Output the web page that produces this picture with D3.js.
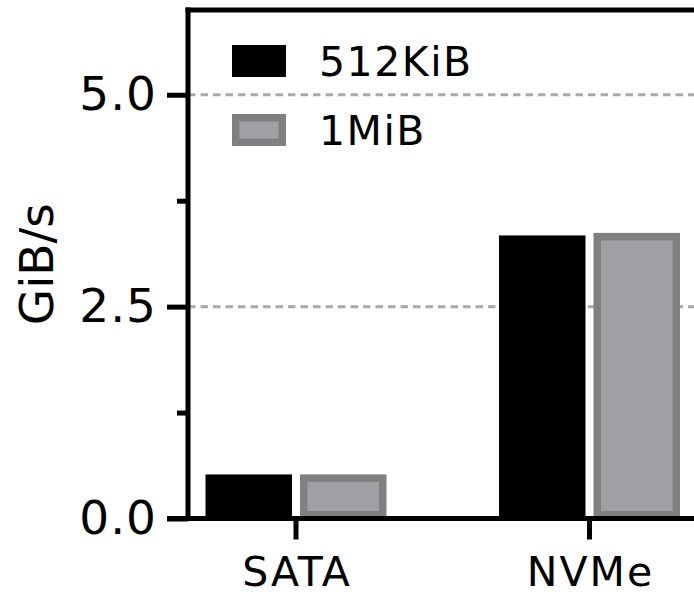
<!DOCTYPE html>
<html>
<head>
<meta charset="utf-8">
<script src="https://cdn.jsdelivr.net/npm/d3@7/dist/d3.min.js"></script>
<style>
  html, body { margin: 0; padding: 0; background: #fff; }
  svg { display: block; }
  text { font-family: "DejaVu Sans", Verdana, sans-serif; fill: #000; }
</style>
</head>
<body>
<svg id="chart" width="694" height="592"></svg>
<script>
// Throughput by device type and request size
const categories = ["SATA", "NVMe"];
const seriesNames = ["512KiB", "1MiB"];
const values512KiB = [0.52, 3.34];
const values1MiB = [0.52, 3.37];
const yTicks = [0, 2.5, 5.0];
const yMinorTicks = [1.25, 3.75];
const yGrid = [2.5, 5.0];
const yLabel = "GiB/s";

const seriesValues = [values512KiB, values1MiB];
const rows = categories.map((c, i) => ({
  category: c,
  values: seriesNames.map((s, j) => ({ series: s, value: seriesValues[j][i] }))
}));

const svg = d3.select("#chart");
const W = 694;

const y = d3.scaleLinear().domain([0, 6]).range([518.5, 10]);
const x0 = d3.scaleBand().domain(categories).range([149.25, 736.25])
  .paddingInner(0.3833).paddingOuter(0.3833 / 2);
const x1 = d3.scaleBand().domain(seriesNames).range([0, x0.bandwidth()])
  .paddingInner(0.0847);

const axisX = 188;

// dashed gridlines
svg.append("g").selectAll("line").data(yGrid).join("line")
  .attr("x1", axisX).attr("x2", W)
  .attr("y1", d => y(d)).attr("y2", d => y(d))
  .attr("stroke", "#a9a9a9").attr("stroke-width", 3)
  .attr("stroke-dasharray", "7.5,5");

// bars
const groups = svg.append("g").selectAll("g").data(rows).join("g")
  .attr("transform", d => `translate(${x0(d.category)},0)`);

const sw = 7.5;
groups.selectAll("rect").data(d => d.values).join("rect")
  .attr("x", d => x1(d.series) + (d.series === "1MiB" ? sw / 2 : 0))
  .attr("y", d => y(d.value) + (d.series === "1MiB" ? sw / 2 : 0))
  .attr("width", d => x1.bandwidth() - (d.series === "1MiB" ? sw : 0))
  .attr("height", d => y(0) - y(d.value) - (d.series === "1MiB" ? sw : 0))
  .attr("fill", d => d.series === "1MiB" ? "#a0a0a4" : "#000")
  .attr("stroke", d => d.series === "1MiB" ? "#808080" : "none")
  .attr("stroke-width", sw);

// y axis
const yAxis = d3.axisLeft(y).tickValues(yTicks).tickSize(21).tickPadding(10)
  .tickFormat(d3.format(".1f"));
const gy = svg.append("g").attr("transform", `translate(${axisX},0)`).call(yAxis);
gy.select(".domain").remove();
gy.selectAll(".tick line").attr("stroke", "#000").attr("stroke-width", 5);
gy.selectAll(".tick text").attr("font-size", 47)
  .style("font-family", "'DejaVu Sans', sans-serif").style("letter-spacing", "1px")
  .attr("fill", "#000");

const yMinor = d3.axisLeft(y).tickValues(yMinorTicks).tickSize(11).tickFormat("");
const gyMinor = svg.append("g").attr("transform", `translate(${axisX},0)`).call(yMinor);
gyMinor.select(".domain").remove();
gyMinor.selectAll(".tick line").attr("stroke", "#000").attr("stroke-width", 5);

svg.append("line")
  .attr("x1", axisX).attr("x2", axisX)
  .attr("y1", y(6) - 2.5).attr("y2", y(0) + 2.5)
  .attr("stroke", "#000").attr("stroke-width", 5);

// top frame line
svg.append("line")
  .attr("x1", axisX - 2.5).attr("x2", W)
  .attr("y1", y(6)).attr("y2", y(6))
  .attr("stroke", "#000").attr("stroke-width", 5);

// x axis
const xAxis = d3.axisBottom(x0).tickSize(21).tickPadding(17);
const gx = svg.append("g").attr("transform", `translate(0,${y(0)})`).call(xAxis);
gx.select(".domain").remove();
gx.selectAll(".tick line").attr("stroke", "#000").attr("stroke-width", 5);
gx.selectAll(".tick text").attr("font-size", 41)
  .style("font-family", "'DejaVu Sans', sans-serif").style("letter-spacing", "2px")
  .attr("dx", "1px").attr("fill", "#000");

svg.append("line")
  .attr("x1", axisX - 21).attr("x2", W)
  .attr("y1", y(0)).attr("y2", y(0))
  .attr("stroke", "#000").attr("stroke-width", 5);

// y axis title
svg.append("text")
  .attr("transform", `translate(53,${(y(0) + y(6)) / 2}) rotate(-90)`)
  .attr("text-anchor", "middle")
  .attr("font-size", 47)
  .text(yLabel);

// legend
const legend = svg.append("g").selectAll("g").data(seriesNames).join("g")
  .attr("transform", (d, i) => `translate(232,${45 + i * 69})`);
legend.append("rect")
  .attr("x", d => d === "1MiB" ? sw / 2 : 0)
  .attr("y", d => d === "1MiB" ? sw / 2 : 0)
  .attr("width", d => 54 - (d === "1MiB" ? sw : 0))
  .attr("height", d => 32 - (d === "1MiB" ? sw : 0))
  .attr("fill", d => d === "1MiB" ? "#a0a0a4" : "#000")
  .attr("stroke", d => d === "1MiB" ? "#808080" : "none")
  .attr("stroke-width", sw);
legend.append("text")
  .attr("x", 87).attr("y", 31)
  .attr("font-size", 41)
  .style("letter-spacing", "1.5px")
  .text(d => d);
</script>
</body>
</html>
